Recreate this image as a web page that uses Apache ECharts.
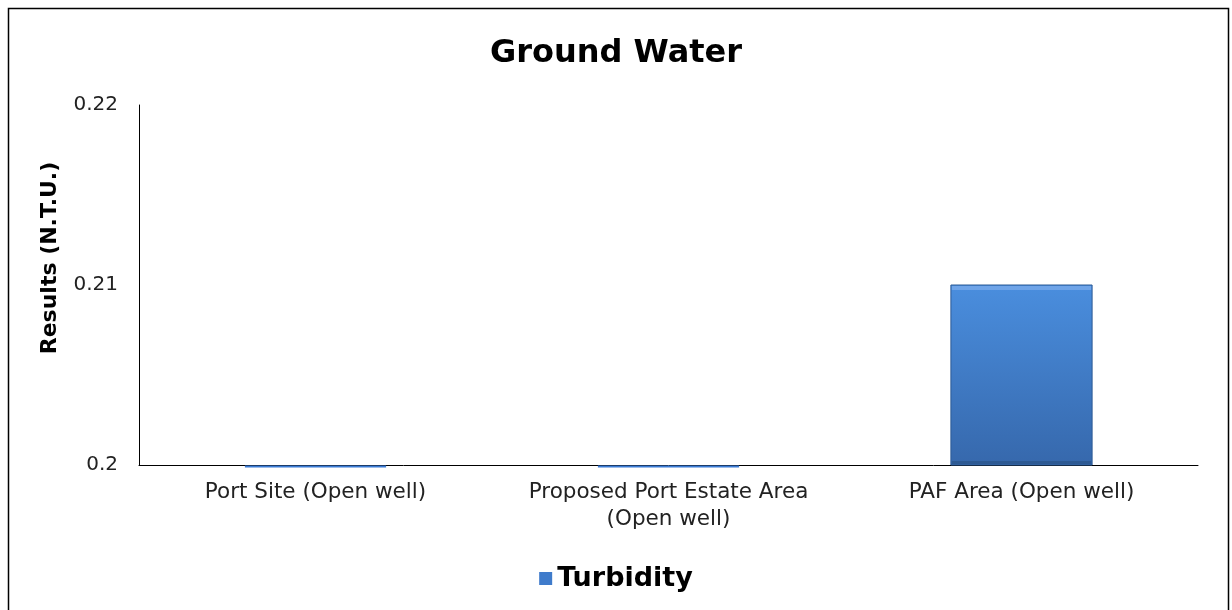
<!DOCTYPE html>
<html>
<head>
<meta charset="utf-8">
<script src="https://cdn.jsdelivr.net/npm/echarts@6/dist/echarts.min.js"></script>
<style>
html,body{margin:0;padding:0;background:#fff;}
#chart{width:1232px;height:610px;}
</style>
</head>
<body>
<div id="chart"></div>
<script>
const categories = ['Port Site (Open well)', 'Proposed Port Estate Area\n(Open well)', 'PAF Area (Open well)'];
const turbidity = [0.2, 0.2, 0.21];
const yTicks = [0.2, 0.21, 0.22];

const yMin = yTicks[0], yMax = yTicks[yTicks.length - 1];
const chart = echarts.init(document.getElementById('chart'), null, {renderer: 'canvas'});
const font = '"DejaVu Sans", Verdana, sans-serif';
const grad = () => new echarts.graphic.LinearGradient(0, 0, 0, 1, [
  {offset: 0, color: '#4a8ede'},
  {offset: 1, color: '#3668ac'}
]);
const seriesData = turbidity.map((v, i) => [i, v]);

chart.setOption({
  animation: false,
  backgroundColor: '#fff',
  title: {
    text: 'Ground Water',
    left: 'center',
    top: 33,
    textStyle: {fontFamily: font, fontSize: 32, fontWeight: 'bold', color: '#000'}
  },
  legend: {
    data: ['Turbidity'],
    top: 560,
    left: 'center',
    icon: 'rect',
    itemWidth: 13,
    itemHeight: 13,
    itemGap: 4,
    textStyle: {fontFamily: font, fontSize: 27, fontWeight: 'bold', color: '#000'}
  },
  graphic: [{
    type: 'rect',
    shape: {x: 8.5, y: 8.5, width: 1220, height: 620},
    style: {fill: 'none', stroke: '#000', lineWidth: 1.5},
    silent: true
  }, {
    type: 'text',
    x: 50, y: 258,
    rotation: Math.PI / 2,
    style: {
      text: 'Results (N.T.U.)',
      fontFamily: font, fontSize: 22, fontWeight: 'bold', fill: '#000',
      align: 'center', verticalAlign: 'middle'
    },
    silent: true
  }],
  grid: {left: 139, right: 34, top: 105, bottom: 145, containLabel: false},
  xAxis: {
    type: 'category',
    data: categories,
    axisLine: {lineStyle: {color: '#000', width: 1}},
    axisTick: {show: false},
    axisLabel: {fontFamily: font, fontSize: 21.5, color: '#222', margin: 14, lineHeight: 27, interval: 0}
  },
  yAxis: {
    type: 'value',
    min: yMin,
    max: yMax,
    interval: 0.01,
    axisLine: {show: true, lineStyle: {color: '#000', width: 1}},
    axisTick: {show: false},
    splitLine: {show: false},
    axisLabel: {
      fontFamily: font, fontSize: 20, color: '#222', margin: 21,
      formatter: v => {
        const r = Math.round(v * 1000) / 1000;
        const t = yTicks.find(x => Math.abs(x - r) < 1e-9);
        return t === undefined ? '' : String(t);
      }
    }
  },
  series: [{
    name: 'Turbidity',
    type: 'custom',
    data: seriesData,
    encode: {x: 0, y: 1},
    itemStyle: {color: '#3f7bcb'},
    renderItem: (params, api) => {
      const i = api.value(0);
      const v = api.value(1);
      const top = api.coord([i, v]);
      const base = api.coord([i, yMin]);
      const bw = api.size([1, 0])[0] * 0.4;
      const x = top[0] - bw / 2;
      let h = base[1] - top[1];
      if (h < 1) {
        return {type: 'rect', shape: {x: x, y: base[1] + 0.5, width: bw, height: 2},
                style: {fill: '#3a7bd5'}};
      }
      return {
        type: 'group',
        children: [
          {type: 'rect', shape: {x: x, y: top[1], width: bw, height: h},
           style: {fill: grad(), stroke: '#2c5a94', lineWidth: 1}},
          {type: 'rect', shape: {x: x + 1, y: top[1] + 1, width: bw - 2, height: 4},
           style: {fill: 'rgba(120,170,235,0.8)'}},
          {type: 'rect', shape: {x: x + 1, y: base[1] - 4, width: bw - 2, height: 3},
           style: {fill: 'rgba(40,80,130,0.6)'}}
        ]
      };
    }
  }]
});
</script>
</body>
</html>
